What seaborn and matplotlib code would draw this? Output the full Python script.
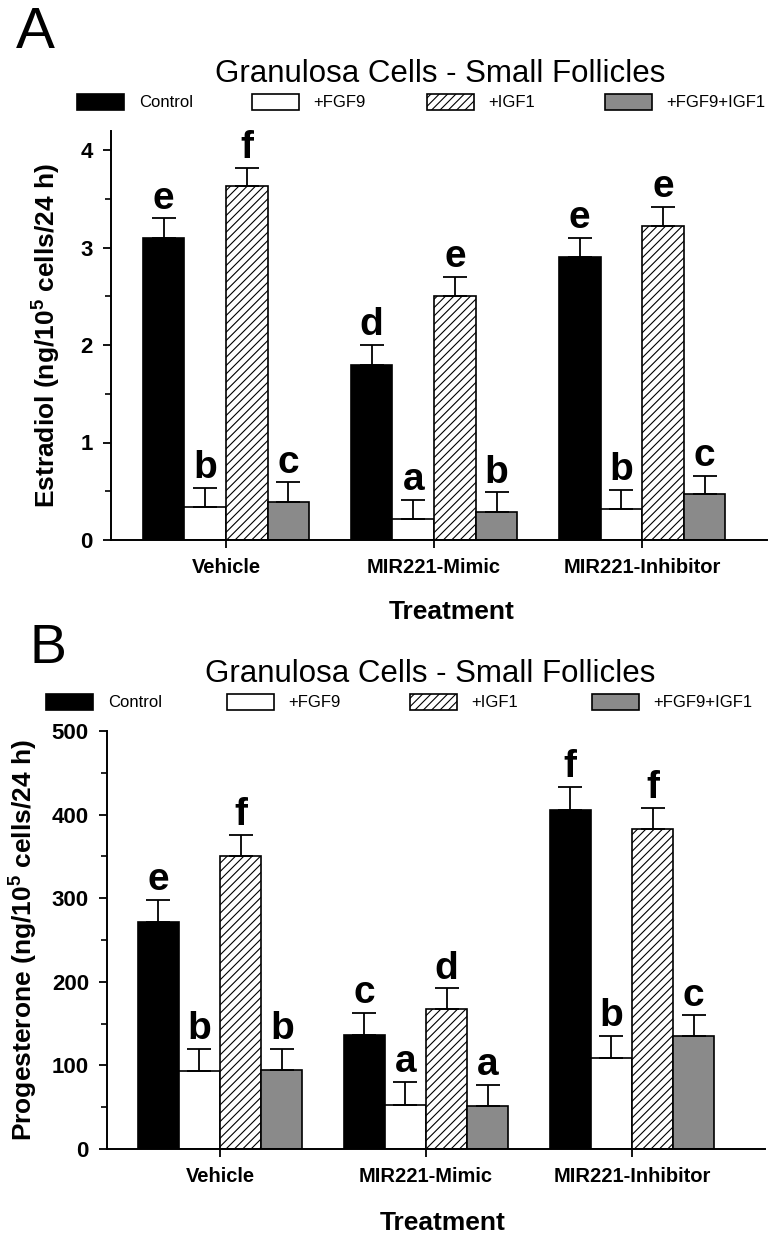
#%%                  Import libraries and prepare data                  ###
import numpy as np
import pandas as pd
import seaborn as sns
import matplotlib.pyplot as plt
from matplotlib.patches import Patch
from matplotlib.ticker import MultipleLocator

groups = ["Vehicle", "MIR221-Mimic", "MIR221-Inhibitor"]
treatments = ["Control", "+FGF9", "+IGF1", "+FGF9+IGF1"]

# --- Panel A: estradiol (ng/10^5 cells/24 h), one list per treatment, order = groups ---
e2_control = [3.10, 1.79, 2.90]
e2_fgf9 = [0.335, 0.215, 0.315]
e2_igf1 = [3.63, 2.50, 3.22]
e2_both = [0.39, 0.29, 0.47]
e2_sem_control = [0.20, 0.21, 0.20]
e2_sem_fgf9 = [0.20, 0.20, 0.20]
e2_sem_igf1 = [0.19, 0.20, 0.20]
e2_sem_both = [0.20, 0.20, 0.19]
e2_letters_control = ["e", "d", "e"]
e2_letters_fgf9 = ["b", "a", "b"]
e2_letters_igf1 = ["f", "e", "e"]
e2_letters_both = ["c", "b", "c"]

# --- Panel B: progesterone (ng/10^5 cells/24 h) ---
p4_control = [271, 136, 405]
p4_fgf9 = [93, 53, 109]
p4_igf1 = [350, 167, 383]
p4_both = [94, 52, 135]
p4_sem_control = [27, 27, 28]
p4_sem_fgf9 = [27, 27, 26]
p4_sem_igf1 = [26, 25, 25]
p4_sem_both = [26, 25, 25]
p4_letters_control = ["e", "c", "f"]
p4_letters_fgf9 = ["b", "a", "b"]
p4_letters_igf1 = ["f", "d", "f"]
p4_letters_both = ["b", "a", "c"]

colors = ["black", "white", "white", "#8a8a8a"]
hatches = ["", "", "////", ""]

sns.set_theme(style="ticks")
plt.rcParams['font.family'] = ['Liberation Sans', 'DejaVu Sans']
plt.rcParams['mathtext.fontset'] = 'custom'
plt.rcParams['mathtext.rm'] = 'Liberation Sans:bold'
plt.rcParams['mathtext.default'] = 'rm'
plt.rcParams['hatch.linewidth'] = 0.8
plt.rcParams['hatch.color'] = '#333333'
for k in ['text.color', 'axes.labelcolor', 'xtick.color', 'ytick.color', 'axes.edgecolor']:
    plt.rcParams[k] = 'black'

W, H = 772, 1237
fig = plt.figure(figsize=(W / 100, H / 100), dpi=100)


def long_table(vals, sems, letters):
    rows = []
    for t, v, s, l in zip(treatments, vals, sems, letters):
        for g, vv, ss, ll in zip(groups, v, s, l):
            rows.append(dict(group=g, treatment=t, value=vv, sem=ss, letter=ll))
    return pd.DataFrame(rows)


def draw_panel(ax, df, ymax, ystep, xlim, ylabel, lab_x, tr_x):
    sns.barplot(data=df, x="group", y="value", hue="treatment", order=groups,
                hue_order=treatments, palette=colors, saturation=1, width=0.8,
                errorbar=None, edgecolor="black", linewidth=1.2, legend=False, ax=ax)
    for cont, t, hat in zip(ax.containers, treatments, hatches):
        sub = df[df.treatment == t].set_index("group").loc[groups]
        xs, hs = [], []
        for bar in cont:
            bar.set_hatch(hat)
            xs.append(bar.get_x() + bar.get_width() / 2)
            hs.append(bar.get_height())
        xs, hs = np.array(xs), np.array(hs)
        sem = sub["sem"].values
        ax.errorbar(xs, hs, yerr=[np.zeros_like(sem), sem], fmt="none", ecolor="black",
                    elinewidth=1.3, capsize=8.3, capthick=1.3, zorder=1)
        for x, top, letter in zip(xs, hs + sem, sub["letter"].values):
            ax.annotate(letter, (x, top), xytext=(0, 7), textcoords="offset points",
                        ha="center", va="baseline", fontsize=28, fontweight="bold")
    ax.set_xlim(*xlim)
    ax.set_ylim(0, ymax)
    ax.yaxis.set_major_locator(MultipleLocator(ystep))
    ax.yaxis.set_minor_locator(MultipleLocator(ystep / 2))
    ax.tick_params(axis="y", which="major", direction="out", length=6, width=1.3,
                   pad=7, labelsize=16)
    ax.tick_params(axis="y", which="minor", direction="out", length=4, width=1.2)
    ax.tick_params(axis="x", direction="out", length=6, width=1.3, pad=7, labelsize=14.5)
    for lbl in ax.get_xticklabels() + ax.get_yticklabels():
        lbl.set_fontweight("bold")
    sns.despine(ax=ax)
    for s in ["left", "bottom"]:
        ax.spines[s].set_linewidth(1.4)
        ax.spines[s].set_color("black")
    ax.set_ylabel(ylabel, fontsize=19, fontweight="bold", va="center")
    ax.yaxis.set_label_coords(lab_x, 0.5)
    ax.set_xlabel("Treatment", fontsize=19, fontweight="bold", va="center")
    ax.xaxis.set_label_coords(tr_x, -0.176)
    ax.grid(False)


def draw_legend(xs_px, y_px):
    for t, c, hat, xp in zip(treatments, colors, hatches, xs_px):
        h = Patch(facecolor=c, edgecolor="black", hatch=hat, linewidth=1.2)
        fig.legend(handles=[h], labels=[t], loc="center left",
                   bbox_to_anchor=(xp / W, 1 - y_px / H), frameon=False,
                   fontsize=12, borderpad=0, borderaxespad=0,
                   handlelength=2.8, handleheight=1.1, handletextpad=0.9)


#%%                  Panel A                  ###
axA = fig.add_axes([111 / W, 1 - 540 / H, 656 / W, 409.5 / H])
dfA = long_table([e2_control, e2_fgf9, e2_igf1, e2_both],
                 [e2_sem_control, e2_sem_fgf9, e2_sem_igf1, e2_sem_both],
                 [e2_letters_control, e2_letters_fgf9, e2_letters_igf1, e2_letters_both])
draw_panel(axA, dfA, 4.2, 1, (-0.553, 2.60), "Estradiol (ng/10$^5$ cells/24 h)", -0.0976, 0.52)
fig.text(440 / W, 1 - 82 / H, "Granulosa Cells - Small Follicles", fontsize=22.5,
         ha="center", va="baseline")
draw_legend([77, 252, 427, 605], 102)
fig.text(16 / W, 1 - 48 / H, "A", fontsize=42, va="baseline")

#%%                  Panel B                  ###
axB = fig.add_axes([107 / W, 1 - 1149 / H, 658 / W, 418 / H])
dfB = long_table([p4_control, p4_fgf9, p4_igf1, p4_both],
                 [p4_sem_control, p4_sem_fgf9, p4_sem_igf1, p4_sem_both],
                 [p4_letters_control, p4_letters_fgf9, p4_letters_igf1, p4_letters_both])
draw_panel(axB, dfB, 500, 100, (-0.549, 2.646), "Progesterone (ng/10$^5$ cells/24 h)", -0.126, 0.51)
fig.text(430 / W, 1 - 682 / H, "Granulosa Cells - Small Follicles", fontsize=22.5,
         ha="center", va="baseline")
draw_legend([46, 227, 410, 592], 702)
fig.text(30 / W, 1 - 663 / H, "B", fontsize=40, va="baseline")

fig.savefig("out.png", dpi=100)
